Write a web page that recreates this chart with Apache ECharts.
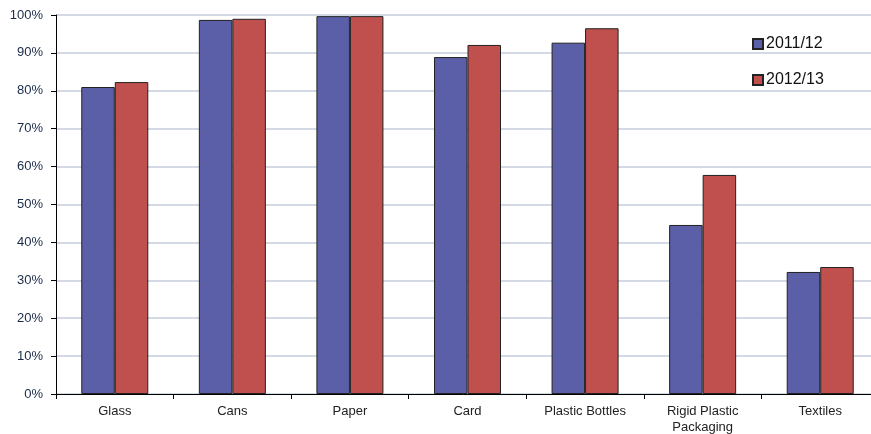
<!DOCTYPE html>
<html>
<head>
<meta charset="utf-8">
<script src="https://cdn.jsdelivr.net/npm/echarts@6/dist/echarts.min.js"></script>
<style>
  html, body { margin: 0; padding: 0; background: #fff; }
  #chart { width: 871px; height: 434px; }
</style>
</head>
<body>
<div id="chart"></div>
<script>
// Recycling rates by material, two financial years
const categories = ['Glass', 'Cans', 'Paper', 'Card', 'Plastic Bottles', 'Rigid Plastic\nPackaging', 'Textiles'];
const rates2011 = [81.0, 98.7, 99.7, 88.9, 92.7, 44.6, 32.2];
const rates2012 = [82.3, 99.0, 99.7, 92.1, 96.5, 57.8, 33.5];
const yTicks = { min: 0, max: 100, interval: 10 };

const chart = echarts.init(document.getElementById('chart'), null, { renderer: 'canvas' });
const font = 'Liberation Sans, Arial, sans-serif';

chart.setOption({
  animation: false,
  textStyle: { fontFamily: font },
  // plot runs slightly past the right edge of the canvas
  grid: { left: 56, width: 823, top: 15, height: 379, containLabel: false, outerBoundsMode: 'none' },
  legend: {
    orient: 'vertical',
    left: 747, top: 31,
    itemGap: 20,
    itemWidth: 10, itemHeight: 10,
    icon: 'rect',
    textStyle: { fontSize: 16, color: '#111', fontFamily: font, padding: [0, 0, 0, -2] },
    data: ['2011/12', '2012/13']
  },
  xAxis: {
    type: 'category',
    data: categories,
    axisLine: { lineStyle: { color: '#000', width: 1 } },
    axisTick: { show: true, length: 5, lineStyle: { color: '#000' } },
    axisLabel: { fontSize: 13, color: '#222', margin: 9, lineHeight: 16, interval: 0 },
    splitLine: { show: false }
  },
  yAxis: {
    type: 'value',
    min: yTicks.min, max: yTicks.max, interval: yTicks.interval,
    axisLine: { show: true, lineStyle: { color: '#000', width: 1 } },
    axisTick: { show: true, length: 5, inside: false, lineStyle: { color: '#000' } },
    axisLabel: { fontSize: 13, color: '#1a2a48', margin: 13, formatter: '{value}%' },
    splitLine: { show: true, lineStyle: { color: '#c5cddc', width: 1.5 } }
  },
  series: [
    {
      name: '2011/12', type: 'bar', data: rates2011,
      barGap: '0%', barCategoryGap: '43%',
      itemStyle: { color: '#5a5fa8', borderColor: '#222', borderWidth: 1 }
    },
    {
      name: '2012/13', type: 'bar', data: rates2012,
      itemStyle: { color: '#c0504d', borderColor: '#222', borderWidth: 1 }
    }
  ]
});
</script>
</body>
</html>
